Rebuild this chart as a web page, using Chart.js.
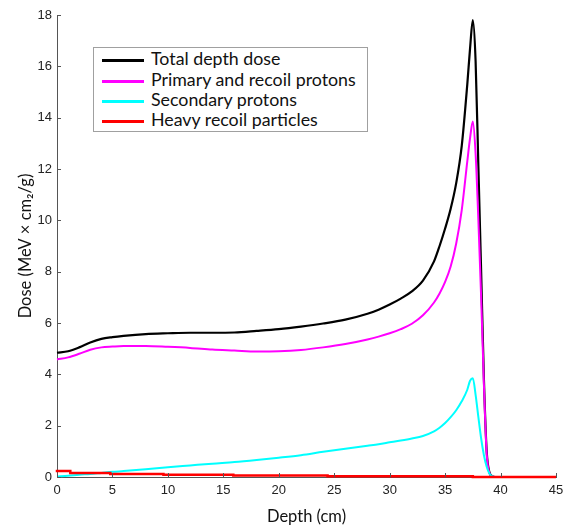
<!DOCTYPE html>
<html>
<head>
<meta charset="utf-8">
<title>Depth dose</title>
<script src="https://cdn.jsdelivr.net/npm/chart.js@4.4.1/dist/chart.umd.min.js"></script>
<style>
    html, body { margin: 0; padding: 0; background: #fff; }
    #wrap { position: relative; width: 563px; height: 527px; }
    #doseChart { display: block; }
    #legend {
        position: absolute;
        left: 93px;
        top: 47px;
        width: 275px;
        height: 85px;
        border: 1px solid #a0a0a0;
        background: #fff;
        box-sizing: border-box;
        font-family: Lato, 'Open Sans', sans-serif;
        font-size: 17.8px;
        color: #111;
    }
    #legend .row { position: absolute; left: 8px; height: 20px; line-height: 20px; white-space: nowrap; }
    #legend .swatch { display: inline-block; width: 42px; height: 3px; vertical-align: middle; margin-right: 7px; }
</style>
</head>
<body>
<div id="wrap">
    <canvas id="doseChart" width="563" height="527"></canvas>
    <div id="legend"></div>
</div>
<script>
// Tiefen (cm) für die Protonen-Kurven
const depths = [0, 1, 2, 3, 4, 5, 6, 8, 10, 12, 14, 16, 18, 20, 22, 24, 26, 28, 29, 30, 31, 32, 33, 34, 34.5, 35, 35.5, 36, 36.5, 37, 37.25, 37.5, 37.75, 38, 38.25, 38.5, 38.75, 39, 39.25, 39.5, 40, 40.5];

const totalDose = [4.84, 4.9, 5.05, 5.24, 5.38, 5.45, 5.5, 5.57, 5.6, 5.62, 5.62, 5.63, 5.69, 5.76, 5.86, 5.98, 6.13, 6.36, 6.52, 6.72, 6.95, 7.23, 7.65, 8.4, 9.0, 9.68, 10.45, 11.45, 12.9, 15.3, 16.7, 17.8, 16.2, 12.1, 8.0, 3.8, 1.0, 0.18, 0.03, 0, 0, 0];

const primaryProtons = [4.58, 4.66, 4.8, 4.96, 5.05, 5.08, 5.1, 5.1, 5.07, 5.03, 4.97, 4.93, 4.89, 4.9, 4.95, 5.05, 5.18, 5.36, 5.47, 5.6, 5.76, 5.97, 6.3, 6.8, 7.15, 7.6, 8.2, 9.1, 10.4, 12.3, 13.2, 13.85, 12.6, 10.0, 7.0, 3.6, 0.9, 0.15, 0.02, 0, 0, 0];

const secondaryProtons = [0.02, 0.05, 0.09, 0.12, 0.16, 0.2, 0.23, 0.3, 0.38, 0.45, 0.52, 0.58, 0.66, 0.75, 0.85, 0.98, 1.1, 1.22, 1.28, 1.35, 1.42, 1.5, 1.6, 1.78, 1.92, 2.1, 2.33, 2.6, 2.95, 3.4, 3.75, 3.85, 3.2, 2.33, 1.5, 0.85, 0.4, 0.13, 0.03, 0, 0, 0];

// Schwere Rückstoßteilchen: Stufenverlauf
const heavyDepths = [0, 1.2, 4.8, 9.6, 15.9, 24.4, 37.5, 38.5, 45];
const heavyRecoil = [0.28, 0.23, 0.16, 0.12, 0.09, 0.06, 0.03, 0, 0];

const xTicks = [0, 5, 10, 15, 20, 25, 30, 35, 40, 45];
const yTicks = [0, 2, 4, 6, 8, 10, 12, 14, 16, 18];

const seriesNames = ['Total depth dose', 'Primary and recoil protons', 'Secondary protons', 'Heavy recoil particles'];
const seriesColors = ['#000000', '#ff00ff', '#00ffff', '#ff0000'];

function toPoints(xs, ys) {
    return xs.map((x, i) => ({ x: x, y: ys[i] }));
}

const tickFont = { family: "'Liberation Sans', Arial, sans-serif", size: 13 };
const titleFont = { family: "Lato, 'Open Sans', sans-serif", size: 16.5 };

// kurze Teilstriche nach innen, wie bei MATLAB
const innerTicks = {
    id: 'innerTicks',
    afterDraw(chart) {
        const ctx = chart.ctx;
        const x = chart.scales.x;
        const y = chart.scales.y;
        ctx.save();
        ctx.strokeStyle = '#555';
        ctx.lineWidth = 1;
        ctx.beginPath();
        xTicks.forEach(v => {
            const px = Math.round(x.getPixelForValue(v)) + 0.5;
            ctx.moveTo(px, y.bottom);
            ctx.lineTo(px, y.bottom - 4);
        });
        yTicks.forEach(v => {
            const py = Math.round(y.getPixelForValue(v)) + 0.5;
            ctx.moveTo(x.left, py);
            ctx.lineTo(x.left + 4, py);
        });
        ctx.stroke();
        ctx.restore();
    }
};

const lineBase = {
    pointRadius: 0,
    fill: false,
    clip: false,
    cubicInterpolationMode: 'monotone'
};

const ctx = document.getElementById('doseChart').getContext('2d');
const doseChart = new Chart(ctx, {
    type: 'line',
    data: {
        datasets: [
            Object.assign({}, lineBase, {
                label: seriesNames[3],
                data: toPoints(heavyDepths, heavyRecoil),
                borderColor: seriesColors[3],
                borderWidth: 2.5,
                stepped: 'after',
                cubicInterpolationMode: 'default',
                order: 0
            }),
            Object.assign({}, lineBase, {
                label: seriesNames[2],
                data: toPoints(depths, secondaryProtons),
                borderColor: seriesColors[2],
                borderWidth: 2,
                order: 1
            }),
            Object.assign({}, lineBase, {
                label: seriesNames[1],
                data: toPoints(depths, primaryProtons),
                borderColor: seriesColors[1],
                borderWidth: 2,
                order: 2
            }),
            Object.assign({}, lineBase, {
                label: seriesNames[0],
                data: toPoints(depths, totalDose),
                borderColor: seriesColors[0],
                borderWidth: 2.2,
                order: 3
            })
        ]
    },
    options: {
        responsive: false,
        animation: false,
        layout: { padding: { top: 15, right: 0, left: 0, bottom: 0 } },
        plugins: {
            legend: { display: false },
            tooltip: { enabled: false }
        },
        scales: {
            x: {
                type: 'linear',
                min: 0,
                max: 45,
                afterBuildTicks: scale => { scale.ticks = xTicks.map(v => ({ value: v })); },
                afterFit: scale => {
                    scale.height = 50;
                    // rechts nur so viel Platz wie die "45" braucht
                    scale.paddingRight = 7;
                    scale.paddingLeft = 0;
                },
                grid: { display: false, drawTicks: false },
                border: { display: true, color: '#555', width: 1 },
                ticks: { font: tickFont, color: '#222', padding: 6, maxRotation: 0 },
                title: { display: true, text: 'Depth (cm)', font: titleFont, color: '#111', padding: { top: 6, bottom: 0 } }
            },
            y: {
                type: 'linear',
                min: 0,
                max: 18,
                afterBuildTicks: scale => { scale.ticks = yTicks.map(v => ({ value: v })); },
                afterFit: scale => { scale.width = 57; },
                grid: { display: false, drawTicks: false },
                border: { display: true, color: '#555', width: 1 },
                ticks: { font: tickFont, color: '#222', padding: 5 },
                title: { display: true, text: 'Dose (MeV × cm₂/g)', font: titleFont, color: '#111', padding: { top: 16, bottom: 0 } }
            }
        }
    },
    plugins: [innerTicks]
});

// Legende als HTML, aus den Datensätzen erzeugt
const legendEl = document.getElementById('legend');
const rowTops = [0, 21, 41, 61];
seriesNames.forEach((name, i) => {
    const row = document.createElement('div');
    row.className = 'row';
    row.style.top = rowTops[i] + 'px';
    row.innerHTML = `<span class="swatch" style="background:${seriesColors[i]}"></span>${name}`;
    legendEl.appendChild(row);
});
</script>
</body>
</html>
